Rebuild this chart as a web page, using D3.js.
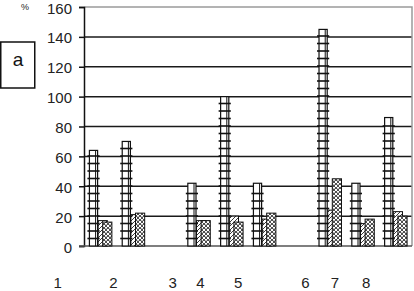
<!DOCTYPE html>
<html><head><meta charset="utf-8">
<script src="https://cdn.jsdelivr.net/npm/d3@7/dist/d3.min.js"></script>
<style>html,body{margin:0;padding:0;background:#fff;}svg{display:block;}</style>
</head><body>
<svg id="chart" width="414" height="291"></svg>
<script>
// ---- data ----
const slots = ["s1","s2","s3","s4","s5","s6","s7","s8","s9","s10"];
const seriesA = [64, 70, null, 42, 100, 42, null, 145, 42, 86];
const seriesB = [17, 21, null, 17, 20, 18, null, 24, 15, 23];
const seriesC = [16, 22, null, 17, 16, 22, null, 45, 18, 20];
const yTicks = [0, 20, 40, 60, 80, 100, 120, 140, 160];
const xLabels = ["1","2","3","4","5","6","7","8"];
const xLabelAt = [-1.3, 0.4, 2.2, 3.05, 4.2, 6.25, 7.15, 8.1]; // in slot units
const unitLabel = "%";
const panelLabel = "a";

(function(){
const svg = d3.select("#chart");
const pl = 84, pr = 412, pt = 7, pb = 246;
const font = "'Liberation Sans', Arial, sans-serif";

const y = d3.scaleLinear().domain([0, 160]).range([pb, pt]);
const x = d3.scaleBand().domain(slots).range([pl, pr]).paddingInner(0.3).paddingOuter(0.15);
const sub = d3.scaleLinear().domain([0, 1]).range([0, x.bandwidth()]);
const slotPos = d3.scaleLinear().domain([0, 9])
  .range([x(slots[0]) + x.bandwidth()/2, x(slots[9]) + x.bandwidth()/2]);

// patterns
const defs = svg.append("defs");
const pB = defs.append("pattern").attr("id","hatch").attr("patternUnits","userSpaceOnUse")
  .attr("width",4).attr("height",4);
pB.append("rect").attr("width",4).attr("height",4).attr("fill","#fff");
pB.append("path").attr("d","M-1,1 L1,-1 M0,4 L4,0 M3,5 L5,3").attr("stroke","#222").attr("stroke-width",0.9);
const pC = defs.append("pattern").attr("id","cross").attr("patternUnits","userSpaceOnUse")
  .attr("width",4).attr("height",4);
pC.append("rect").attr("width",4).attr("height",4).attr("fill","#fff");
pC.append("path").attr("d","M0,0 L4,4 M4,0 L0,4").attr("stroke","#222").attr("stroke-width",0.8);
pC.append("rect").attr("x",1.5).attr("y",-0.5).attr("width",1).attr("height",1).attr("fill","#000");

// grid
svg.append("g").selectAll("line").data(yTicks.filter(t => t > 0 && t < 160)).join("line")
  .attr("x1", pl).attr("x2", pr).attr("y1", d => y(d)).attr("y2", d => y(d))
  .attr("stroke", "#1a1a1a").attr("stroke-width", 1.5);
// frame top/right
svg.append("path").attr("d", `M${pl},${y(160)} H${pr} V${pb}`)
  .attr("fill","none").attr("stroke","#9a9a9a").attr("stroke-width",1.5);

// y axis
const yAxis = svg.append("g").attr("transform", `translate(${pl},0)`)
  .call(d3.axisLeft(y).tickValues(yTicks).tickSize(5).tickPadding(7));
yAxis.select(".domain").attr("stroke","#111").attr("stroke-width",1.5);
yAxis.selectAll(".tick line").attr("stroke","#111").attr("stroke-width",1.5);
yAxis.selectAll(".tick text").attr("font-family", font).attr("font-size", 15).attr("fill","#222")
  .attr("dy", "0.4em");

// baseline
svg.append("line").attr("x1", pl-5).attr("x2", pr).attr("y1", pb).attr("y2", pb)
  .attr("stroke","#555").attr("stroke-width",1.5);

// bars
const data = slots.map((s,i) => ({s, a: seriesA[i], b: seriesB[i], c: seriesC[i]})).filter(d => d.a != null);
const w = sub(0.4);
const g = svg.append("g");
g.selectAll("rect.b").data(data).join("rect").attr("class","b")
  .attr("x", d => x(d.s) + sub(0.4)).attr("width", w)
  .attr("y", d => y(d.b)).attr("height", d => y(0) - y(d.b))
  .attr("fill","url(#hatch)").attr("stroke","#111").attr("stroke-width",1);
g.selectAll("rect.c").data(data).join("rect").attr("class","c")
  .attr("x", d => x(d.s) + sub(0.6)).attr("width", w)
  .attr("y", d => y(d.c)).attr("height", d => y(0) - y(d.c))
  .attr("fill","url(#cross)").attr("stroke","#111").attr("stroke-width",1);
const ga = g.selectAll("g.a").data(data).join("g").attr("class","a");
ga.append("rect")
  .attr("x", d => x(d.s) + 0.5).attr("width", w - 1)
  .attr("y", d => y(d.a)).attr("height", d => y(0) - y(d.a))
  .attr("fill","#fff").attr("stroke","#111").attr("stroke-width",1.2);
ga.append("line")
  .attr("x1", d => x(d.s) + w - 2.5).attr("x2", d => x(d.s) + w - 2.5)
  .attr("y1", d => y(d.a)).attr("y2", y(0))
  .attr("stroke","#111").attr("stroke-width",1);
ga.each(function(d) {
  const rungs = d3.range(y(0) - 7.5, y(d.a) + 3, -7.5);
  d3.select(this).selectAll("line.r").data(rungs).join("line").attr("class","r")
    .attr("x1", x(d.s) - 1.5).attr("x2", x(d.s) + w + 1.5)
    .attr("y1", r => r).attr("y2", r => r)
    .attr("stroke","#111").attr("stroke-width",1.6);
});

// x labels
svg.append("g").selectAll("text").data(xLabels).join("text")
  .attr("x", (d,i) => slotPos(xLabelAt[i])).attr("y", 288)
  .attr("text-anchor","middle").attr("font-family", font).attr("font-size", 15).attr("fill","#222")
  .text(d => d);

svg.append("text").attr("x", 25).attr("y", 10).attr("text-anchor","middle")
  .attr("font-family", font).attr("font-size", 9).attr("fill","#222").text(unitLabel);

svg.append("rect").attr("x", 0.75).attr("y", 42).attr("width", 34).attr("height", 46)
  .attr("fill","#fff").attr("stroke","#111").attr("stroke-width",1.5);
svg.append("text").attr("x", 18).attr("y", 66).attr("text-anchor","middle")
  .attr("font-family", font).attr("font-size", 19).attr("fill","#111").text(panelLabel);
})();
</script>
</body></html>
